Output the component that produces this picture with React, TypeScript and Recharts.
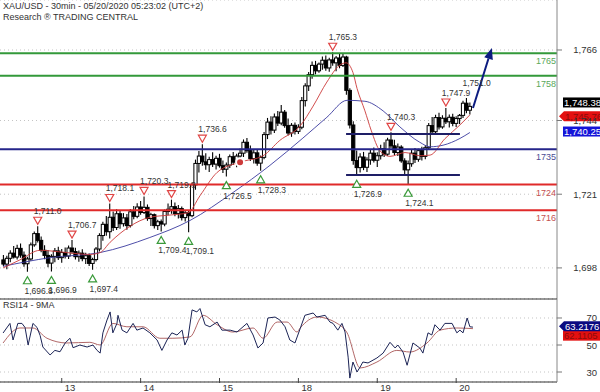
import React from "react";
import {
  ComposedChart, Bar, Line, Scatter, XAxis, YAxis, CartesianGrid, ReferenceLine, ReferenceDot,
} from "recharts";

const FONT = "'Liberation Sans', Arial, Helvetica, sans-serif";

// hourly candles [open, high, low, close], t = 1, 2, 3 ... (23 trading hours a day on the axis)
const ohlc: number[][] = [
  [1700.5, 1702.0, 1698.5, 1699.2], [1699.2, 1701.8, 1697.6, 1701.0], [1701.0, 1703.5, 1699.8, 1702.6],
  [1702.6, 1704.8, 1700.9, 1701.4], [1701.4, 1705.2, 1700.6, 1704.1], [1704.1, 1705.6, 1701.2, 1702.0],
  [1702.0, 1703.1, 1698.4, 1699.3], [1699.3, 1701.5, 1696.8, 1700.8], [1700.8, 1705.9, 1700.2, 1705.2],
  [1705.2, 1709.4, 1704.6, 1708.7], [1708.7, 1711.0, 1705.9, 1706.6], [1706.6, 1707.8, 1702.9, 1703.5],
  [1703.5, 1705.1, 1700.7, 1701.9], [1701.9, 1703.6, 1698.2, 1699.5], [1699.5, 1702.3, 1696.9, 1701.6],
  [1701.6, 1704.2, 1699.8, 1703.3], [1703.3, 1704.6, 1700.5, 1701.2], [1701.2, 1703.9, 1699.6, 1702.8],
  [1702.8, 1704.4, 1700.9, 1701.7], [1701.7, 1705.0, 1700.8, 1704.2], [1704.2, 1706.7, 1702.4, 1703.1],
  [1703.1, 1704.3, 1700.6, 1701.5], [1701.5, 1703.4, 1699.9, 1702.6], [1702.6, 1703.8, 1700.1, 1700.9],
  [1700.9, 1702.7, 1699.2, 1701.8], [1701.8, 1702.5, 1698.6, 1699.4], [1699.4, 1701.2, 1697.4, 1700.6],
  [1700.6, 1704.5, 1700.0, 1703.9], [1703.9, 1708.8, 1703.1, 1708.1], [1708.1, 1712.4, 1706.5, 1711.6],
  [1711.6, 1714.2, 1708.0, 1709.3], [1709.3, 1718.1, 1707.2, 1713.8], [1713.8, 1715.6, 1709.5, 1710.6],
  [1710.6, 1716.3, 1709.8, 1714.9], [1714.9, 1716.0, 1710.2, 1711.8], [1711.8, 1715.1, 1710.9, 1713.6],
  [1713.6, 1714.8, 1709.9, 1711.2], [1711.2, 1716.4, 1710.6, 1715.5], [1715.5, 1717.3, 1713.2, 1714.1],
  [1714.1, 1718.2, 1713.5, 1717.0], [1717.0, 1718.9, 1714.6, 1715.3], [1715.3, 1720.3, 1714.8, 1716.9],
  [1716.9, 1717.8, 1712.7, 1713.4], [1713.4, 1715.2, 1711.1, 1714.6], [1714.6, 1715.0, 1710.3, 1711.2],
  [1711.2, 1713.0, 1709.8, 1712.4], [1712.4, 1713.1, 1709.4, 1711.7], [1711.7, 1716.2, 1711.0, 1715.6],
  [1715.6, 1718.1, 1714.4, 1716.3], [1716.3, 1719.3, 1714.9, 1717.1], [1717.1, 1718.4, 1714.1, 1715.0],
  [1715.0, 1717.6, 1713.4, 1716.5], [1716.5, 1717.2, 1712.8, 1713.7], [1713.7, 1716.1, 1712.5, 1715.2],
  [1715.2, 1716.0, 1709.1, 1714.3], [1714.3, 1724.6, 1713.8, 1723.9], [1723.9, 1731.8, 1722.4, 1730.6],
  [1730.6, 1734.5, 1727.8, 1732.9], [1732.9, 1736.6, 1729.9, 1731.1], [1731.1, 1733.8, 1728.6, 1730.2],
  [1730.2, 1732.7, 1727.9, 1731.8], [1731.8, 1734.1, 1729.5, 1730.4], [1730.4, 1733.0, 1728.7, 1732.2],
  [1732.2, 1733.6, 1729.3, 1729.9], [1729.9, 1731.5, 1727.6, 1728.8], [1728.8, 1730.9, 1726.5, 1730.1],
  [1730.1, 1733.4, 1729.2, 1732.7], [1732.7, 1734.2, 1730.1, 1731.0], [1731.0, 1733.6, 1729.4, 1732.9],
  [1732.9, 1735.3, 1731.2, 1733.8], [1733.8, 1738.1, 1732.6, 1737.2], [1737.2, 1738.5, 1733.9, 1734.6],
  [1734.6, 1736.2, 1731.4, 1732.1], [1732.1, 1735.0, 1730.6, 1733.9], [1733.9, 1734.8, 1729.9, 1730.7],
  [1730.7, 1733.1, 1728.3, 1732.5], [1732.5, 1740.4, 1731.9, 1739.6], [1739.6, 1744.8, 1738.2, 1743.5],
  [1743.5, 1745.3, 1739.6, 1741.0], [1741.0, 1746.2, 1740.1, 1745.1], [1745.1, 1747.0, 1742.3, 1743.2],
  [1743.2, 1748.8, 1742.5, 1746.6], [1746.6, 1747.3, 1741.7, 1742.4], [1742.4, 1744.6, 1739.3, 1740.1],
  [1740.1, 1743.2, 1738.9, 1742.5], [1742.5, 1743.4, 1739.6, 1740.6], [1740.6, 1742.8, 1739.8, 1741.9],
  [1741.9, 1751.3, 1741.3, 1750.2], [1750.2, 1755.6, 1748.4, 1754.8], [1754.8, 1759.1, 1753.2, 1758.3],
  [1758.3, 1762.4, 1757.0, 1761.2], [1761.2, 1762.6, 1758.4, 1759.5], [1759.5, 1762.1, 1758.9, 1761.6],
  [1761.6, 1764.0, 1759.8, 1762.8], [1762.8, 1764.3, 1759.5, 1760.4], [1760.4, 1763.6, 1759.2, 1762.9],
  [1762.9, 1765.3, 1761.1, 1762.0], [1762.0, 1764.1, 1759.4, 1763.5], [1763.5, 1764.8, 1760.3, 1761.2],
  [1761.2, 1764.9, 1760.7, 1763.8], [1763.8, 1764.2, 1752.0, 1753.4], [1753.4, 1754.1, 1741.5, 1742.6],
  [1742.6, 1743.8, 1730.2, 1731.5], [1731.5, 1734.6, 1726.9, 1729.3], [1729.3, 1733.8, 1727.8, 1732.6],
  [1732.6, 1734.2, 1728.5, 1729.4], [1729.4, 1732.5, 1727.9, 1731.7], [1731.7, 1735.0, 1730.2, 1733.8],
  [1733.8, 1735.6, 1730.9, 1731.6], [1731.6, 1734.1, 1729.5, 1733.0], [1733.0, 1736.4, 1731.8, 1735.2],
  [1735.2, 1737.2, 1732.6, 1733.5], [1733.5, 1738.6, 1733.0, 1737.9], [1737.9, 1740.3, 1735.4, 1736.1],
  [1736.1, 1738.0, 1733.2, 1734.0], [1734.0, 1736.8, 1732.9, 1735.7], [1735.7, 1736.3, 1730.8, 1731.4],
  [1731.4, 1732.2, 1727.0, 1728.6], [1728.6, 1731.5, 1724.1, 1730.5], [1730.5, 1734.9, 1729.6, 1733.8],
  [1733.8, 1735.4, 1730.7, 1731.9], [1731.9, 1735.2, 1731.1, 1734.6], [1734.6, 1735.8, 1731.5, 1732.8],
  [1732.8, 1736.2, 1731.9, 1735.5], [1735.5, 1743.2, 1734.8, 1742.4], [1742.4, 1745.1, 1739.6, 1740.5],
  [1740.5, 1745.8, 1739.8, 1744.9], [1744.9, 1746.4, 1741.2, 1742.0], [1742.0, 1745.6, 1741.4, 1744.7],
  [1744.7, 1747.9, 1742.9, 1743.6], [1743.6, 1745.9, 1741.8, 1745.0], [1745.0, 1746.1, 1742.2, 1743.1],
  [1743.1, 1745.3, 1742.0, 1744.6], [1744.6, 1746.0, 1742.9, 1745.6], [1745.6, 1750.2, 1744.8, 1749.4],
  [1749.4, 1751.0, 1746.3, 1747.2], [1747.2, 1749.6, 1745.9, 1748.4],
];

const dayTicks = [18, 41, 64, 87, 110, 133];
const dayLabels = ["13", "14", "15", "18", "19", "20"];
const priceTicks = [1698, 1721, 1744, 1766];
const rsiTicks = [30, 50, 70];

const resistances = [1765, 1758];
const pivotLevels = [1735];
const supports = [1724, 1716];

const channel = { from: 100.9, to: 134.1, high: 1739.8, low: 1727.0 };
const arrow = { t1: 137.9, p1: 1747.9, t2: 143.4, p2: 1766.6 };

// swing highs / lows: [t, price]
const swingHighs = [[11, 1711.0], [21, 1706.7], [32, 1718.1], [42, 1720.3], [50, 1719.3], [59, 1736.6], [97, 1765.3], [114, 1740.3], [130, 1747.9]];
const swingLows = [[8, 1696.8], [15, 1696.9], [27, 1697.4], [47, 1709.4], [55, 1709.1], [66, 1726.5], [76, 1728.3], [104, 1726.9], [119, 1724.1]];
const targetHigh = [136, 1751.0];

const fastMa = [
  [0.9, 1698.0], [5.8, 1700.5], [11.7, 1703.5], [17.5, 1703.0], [26.2, 1702.2], [29.2, 1702.8], [32.1, 1706.0],
  [37.9, 1711.0], [43.7, 1713.8], [49.6, 1714.5], [54.8, 1715.2], [58.3, 1720.5], [63.3, 1727.8], [70.0, 1731.0],
  [76.7, 1733.0], [81.6, 1737.8], [87.5, 1742.3], [91.3, 1748.5], [95.3, 1756.0], [99.1, 1761.3], [100.9, 1762.0],
  [102.9, 1759.0], [104.1, 1754.0], [106.4, 1747.0], [108.2, 1741.0], [110.8, 1734.5], [113.7, 1732.8],
  [118.1, 1734.0], [122.4, 1733.0], [125.4, 1733.2], [129.7, 1738.3], [134.1, 1742.6], [137, 1745.76],
];
const slowMa = [
  [0.9, 1698.5], [14.6, 1701.2], [29.2, 1702.8], [43.7, 1707.5], [55.4, 1712.8], [67.9, 1721.5], [78.7, 1730.0],
  [88.3, 1738.5], [95.3, 1745.0], [101.2, 1750.3], [106.4, 1750.0], [111.7, 1747.0], [116.6, 1742.0],
  [122.4, 1737.2], [125.4, 1735.8], [129.2, 1736.3], [134.1, 1738.4], [137, 1740.25],
];

const rsi14 = [
  [0.9, 58.9], [2.9, 66], [3.8, 53.7], [5.2, 66], [6.4, 66], [7.3, 63], [8.2, 50], [9.6, 66], [10.8, 63], [11.7, 57],
  [12.5, 48.5], [14.6, 42.6], [16, 46], [17.5, 45], [19, 51.5], [20.4, 55], [21.3, 48], [23.3, 50], [25.4, 48.5],
  [27.1, 50], [28.3, 46], [29.2, 44], [30, 59], [31.2, 68.5], [32.1, 74.5], [32.9, 59], [34.1, 66], [34.4, 72],
  [35.6, 61], [37, 59], [38.8, 66], [39.9, 61], [41.7, 62.6], [43.7, 59], [45.8, 53.7], [47.2, 46], [48.7, 53.7],
  [50.1, 59], [51.6, 57.4], [53.1, 61], [53.9, 50], [54.8, 55], [56, 76], [57.4, 74.5], [58.3, 77], [59.8, 65],
  [61.2, 63.5], [63.3, 67], [64.7, 61], [67.1, 61], [69.1, 59.6], [72, 66], [73.8, 57.4], [75.2, 47.8], [76.7, 51.5],
  [78.1, 70], [80.2, 70.7], [81.6, 68.5], [83.1, 63.5], [84.5, 53.7], [86, 51.5], [87.5, 62], [88.9, 72],
  [91.3, 73.7], [92.4, 70.7], [94.8, 72], [96.2, 67], [97.1, 66], [98.5, 61], [99.7, 66], [100.6, 59.6],
  [101.5, 41], [102, 25.5], [102.9, 37.4], [104.1, 30], [105, 33.7], [105.8, 37.4], [107.3, 36.7], [109.9, 40.4],
  [111.7, 44], [113.7, 52], [115.2, 47.8], [116, 50], [117.5, 44.8], [118.7, 35], [120.4, 51.5], [122.4, 47.8],
  [123.3, 44], [124.8, 59], [125.9, 57.4], [126.8, 65], [128.3, 61], [129.7, 66], [131.8, 66], [133.2, 59],
  [134.1, 61], [135, 59], [136.2, 70], [137, 63.5], [137.9, 63.2176],
];
const rsiMa9 = [
  [0.9, 51.5], [5.8, 62.6], [9.6, 62.6], [13.7, 55], [19.5, 51.5], [26.2, 52], [29.2, 50], [32.9, 66], [37, 63.5],
  [41.7, 63.5], [46.6, 55], [50.4, 55], [55.4, 56], [59.2, 72], [63.3, 65], [67.9, 59.6], [73.8, 62.6], [76.7, 55],
  [80.8, 67], [83.7, 67], [86.6, 59.6], [87.5, 62.5], [92.4, 70.7], [98.3, 66], [101.2, 59], [105, 33],
  [109.9, 37.4], [115.7, 46], [119.5, 44.8], [124.5, 51.5], [128.3, 61], [133.2, 62.6], [137.9, 62.1105],
];

const lastClose = 1748.38;
const lastFast = 1745.76;
const lastSlow = 1740.25;
const lastRsi = 63.2176;
const lastRsiMa = 62.1105;

const T_MAX = 162.4;
const PRICE_DOMAIN = [1688.3, 1781.6];
const RSI_DOMAIN = [22.6, 84.07];

const rows = ohlc.map((c, i) => ({ t: i + 1, o: c[0], range: [c[2], c[1]], c: c[3] }));
const pts = (a: number[][]) => a.map(([t, v]) => ({ t, v }));
const marks = (a: number[][], mark: boolean) => a.map(([t, p]) => ({ t, p, mark }));
const fmt = (v: number, d: number) =>
  v.toLocaleString("en-US", { minimumFractionDigits: d, maximumFractionDigits: d });

function Candle(props: any) {
  const { x, y, width, height, payload } = props;
  if (x == null || y == null) return null;
  const top = Math.min(y, y + height);
  const h = Math.abs(height);
  const [lo, hi] = payload.range;
  const cx = x + width / 2;
  const py = (v: number) => top + ((hi - v) / (hi - lo || 1)) * h;
  const b1 = py(Math.max(payload.o, payload.c));
  const b2 = py(Math.min(payload.o, payload.c));
  const up = payload.c >= payload.o;
  return (
    <g>
      <line x1={cx} x2={cx} y1={top} y2={top + h} stroke="#000" strokeWidth={1.1} />
      <rect x={cx - 1.6} y={b1} width={3.2} height={Math.max(b2 - b1, 1)} fill={up ? "#fff" : "#000"} stroke="#000" strokeWidth={1} />
    </g>
  );
}

function HighMark(props: any) {
  const { cx, cy, payload } = props;
  return (
    <g>
      {payload.mark && (
        <path d={`M${cx - 4},${cy - 9} L${cx + 4},${cy - 9} L${cx},${cy - 2} Z`} fill="#fff" stroke="#e04545" strokeWidth={1.2} />
      )}
      <text x={cx - 4} y={cy - 12} fontSize={8.5} fill="#333" fontFamily={FONT}>{fmt(payload.p, 1)}</text>
    </g>
  );
}

function LowMark(props: any) {
  const { cx, cy, payload } = props;
  return (
    <g>
      <path d={`M${cx - 4},${cy + 12} L${cx + 4},${cy + 12} L${cx},${cy + 5} Z`} fill="#fff" stroke="#3a9a3a" strokeWidth={1.2} />
      <text x={cx - 3} y={cy + 22} fontSize={8.5} fill="#333" fontFamily={FONT}>{fmt(payload.p, 1)}</text>
    </g>
  );
}

function LevelText({ viewBox, text, color }: any) {
  if (!viewBox) return null;
  return (
    <text x={viewBox.x + viewBox.width - 1} y={viewBox.y + 11} textAnchor="end" fontSize={9} fill={color} fontFamily={FONT}>
      {text}
    </text>
  );
}

function ArrowShape(props: any) {
  const { x1, y1, x2, y2 } = props;
  if (x1 == null) return null;
  const a = Math.atan2(y2 - y1, x2 - x1);
  const L = 11, Wd = 4.5;
  const bx = x2 - L * Math.cos(a), by = y2 - L * Math.sin(a);
  const nx = -Math.sin(a) * Wd, ny = Math.cos(a) * Wd;
  return (
    <g>
      <line x1={x1} y1={y1} x2={bx} y2={by} stroke="#0c1c80" strokeWidth={2} />
      <path d={`M${x2},${y2} L${bx + nx},${by + ny} L${bx - nx},${by - ny} Z`} fill="#0c1c80" />
    </g>
  );
}

function ValueBox({ cx, cy, text, bg, fg, dy = 0, pointer = false }: any) {
  const c = cy + dy;
  const x0 = cx + (pointer ? 7 : 6);
  return (
    <g>
      {pointer ? (
        <path d={`M${cx + 2},${c} L${x0},${c - 5} L${cx + 45},${c - 5} L${cx + 45},${c + 5} L${x0},${c + 5} Z`} fill={bg} />
      ) : (
        <rect x={x0} y={c - 5} width={45} height={10} fill={bg} />
      )}
      <text x={x0 + 1} y={c + 3.5} fontSize={9.5} fill={fg} fontFamily={FONT}>{text}</text>
    </g>
  );
}

function RightTick(props: any) {
  const { y, payload, fmtDigits } = props;
  return (
    <text x={597} y={y + 3.5} textAnchor="end" fontSize={9.5} fill="#333" fontFamily={FONT}>
      {fmtDigits ? fmt(payload.value, 0) : payload.value}
    </text>
  );
}

function DayTick(props: any) {
  const { x, y, index } = props;
  return (
    <g>
      <line x1={x} x2={x} y1={y - 4} y2={y + 1} stroke="#444" />
      <text x={x + 3} y={y + 9} fontSize={9.5} fill="#333" fontFamily={FONT}>{dayLabels[index]}</text>
    </g>
  );
}

export default function App() {
  return (
    <div style={{ position: "relative", width: 600, height: 392, background: "#fff", overflow: "hidden", fontFamily: FONT }}>
      <style>{"body{margin:0}"}</style>
      <div style={{ position: "absolute", left: 0, top: 0 }}>
        <ComposedChart width={600} height={299} data={rows} margin={{ top: 0, right: 0, bottom: 0, left: 0 }}>
          <CartesianGrid vertical={false} stroke="#c4c4c4" strokeDasharray="1 3" />
          <XAxis type="number" dataKey="t" domain={[0, T_MAX]} hide allowDataOverflow />
          <YAxis
            orientation="right" width={43} domain={PRICE_DOMAIN} ticks={priceTicks} interval={0} allowDataOverflow
            tick={<RightTick fmtDigits />} tickSize={5} tickLine={{ stroke: "#777" }} axisLine={{ stroke: "#888" }}
          />
          <Line data={pts(slowMa)} dataKey="v" type="monotone" stroke="#3a3a9e" strokeWidth={0.9} dot={false} isAnimationActive={false} />
          <Line data={pts(fastMa)} dataKey="v" type="monotone" stroke="#cc3a3a" strokeWidth={0.9} dot={false} isAnimationActive={false} />
          <Bar dataKey="range" barSize={3} shape={<Candle />} isAnimationActive={false} />
          {resistances.map((v) => (
            <ReferenceLine key={v} y={v} stroke="#33993a" strokeWidth={2} label={<LevelText text={String(v)} color="#5aa85a" />} />
          ))}
          {pivotLevels.map((v) => (
            <ReferenceLine key={v} y={v} stroke="#25258a" strokeWidth={2} label={<LevelText text={String(v)} color="#4c4c94" />} />
          ))}
          {supports.map((v) => (
            <ReferenceLine key={v} y={v} stroke="#e02a2a" strokeWidth={2} label={<LevelText text={String(v)} color="#c45050" />} />
          ))}
          <ReferenceLine segment={[{ x: channel.from, y: channel.high }, { x: channel.to, y: channel.high }]} stroke="#1e1e66" strokeWidth={2} />
          <ReferenceLine segment={[{ x: channel.from, y: channel.low }, { x: channel.to, y: channel.low }]} stroke="#1e1e66" strokeWidth={2} />
          <Scatter data={marks(swingHighs, true).concat(marks([targetHigh], false))} dataKey="p" shape={HighMark} isAnimationActive={false} />
          <Scatter data={marks(swingLows, true)} dataKey="p" shape={LowMark} isAnimationActive={false} />
          <ReferenceLine segment={[{ x: arrow.t1, y: arrow.p1 }, { x: arrow.t2, y: arrow.p2 }]} shape={ArrowShape} />
          <ReferenceDot x={T_MAX} y={lastSlow} r={0} shape={(p: any) => <ValueBox {...p} text={fmt(lastSlow, 2)} bg="#1414d8" fg="#fff" dy={-1} />} />
          <ReferenceDot x={T_MAX} y={lastFast} r={0} shape={(p: any) => <ValueBox {...p} text={fmt(lastFast, 2)} bg="#e41010" fg="#8a0c0c" dy={1.5} pointer />} />
          <ReferenceDot x={T_MAX} y={lastClose} r={0} shape={(p: any) => <ValueBox {...p} text={fmt(lastClose, 2)} bg="#000" fg="#fff" dy={-4} />} />
        </ComposedChart>
      </div>
      <div style={{ position: "absolute", left: 0, top: 298 }}>
        <ComposedChart width={600} height={94} margin={{ top: 1, right: 0, bottom: 0, left: 0 }}>
          <CartesianGrid vertical={false} stroke="#c4c4c4" strokeDasharray="1 3" />
          <XAxis
            type="number" dataKey="t" domain={[0, T_MAX]} ticks={dayTicks} interval={0} allowDataOverflow height={10}
            tick={<DayTick />} tickLine={false} tickSize={0} tickMargin={0} axisLine={{ stroke: "#333" }}
          />
          <YAxis
            orientation="right" width={43} domain={RSI_DOMAIN} ticks={rsiTicks} interval={0} allowDataOverflow
            tick={<RightTick />} tickSize={5} tickLine={{ stroke: "#777" }} axisLine={{ stroke: "#888" }}
          />
          <ReferenceLine y={RSI_DOMAIN[1]} stroke="#333" />
          <Line data={pts(rsiMa9)} dataKey="v" type="monotone" stroke="#a85656" strokeWidth={0.9} dot={false} isAnimationActive={false} />
          <Line data={pts(rsi14)} dataKey="v" type="linear" stroke="#1c2456" strokeWidth={1} dot={false} isAnimationActive={false} />
          <ReferenceDot x={T_MAX} y={lastRsiMa} r={0} shape={(p: any) => <ValueBox {...p} text={fmt(lastRsiMa, 4)} bg="#e41010" fg="#8a0c0c" dy={7} />} />
          <ReferenceDot x={T_MAX} y={lastRsi} r={0} shape={(p: any) => <ValueBox {...p} text={fmt(lastRsi, 4)} bg="#0a0a80" fg="#fff" dy={-1} pointer />} />
        </ComposedChart>
      </div>
      <div style={{ position: "absolute", left: 3, top: 1, fontSize: 9, lineHeight: "11px", color: "#333", whiteSpace: "nowrap" }}>
        <div>XAU/USD - 30min - 05/20/2020 05:23:02 (UTC+2)</div>
        <div>Research ® TRADING CENTRAL</div>
      </div>
      <div style={{ position: "absolute", left: 3, top: 300, fontSize: 9, color: "#333", whiteSpace: "nowrap" }}>RSI14 - 9MA</div>
    </div>
  );
}
